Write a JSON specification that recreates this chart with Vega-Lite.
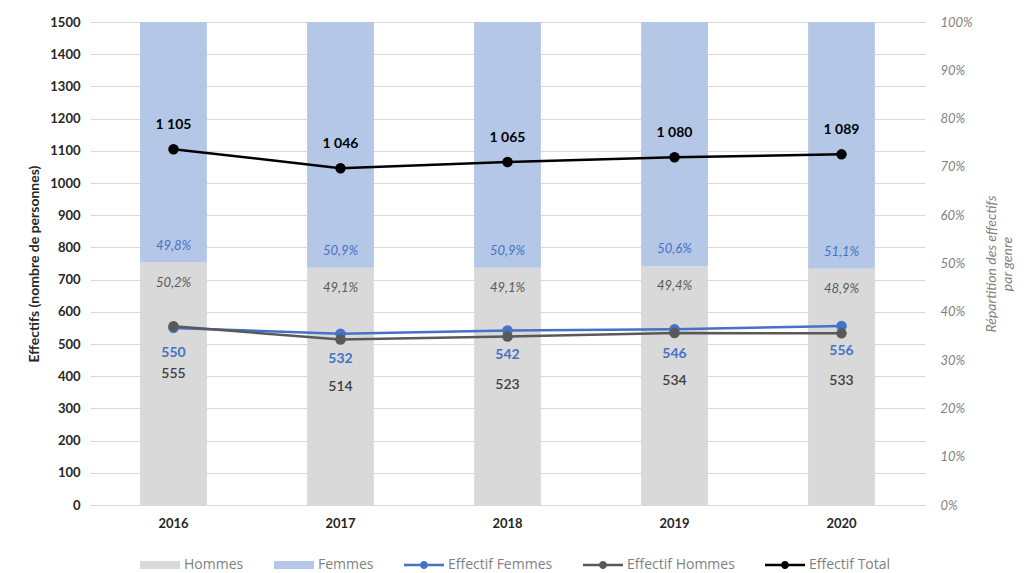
{
  "$schema": "https://vega.github.io/schema/vega-lite/v6.json",
  "autosize": {"type": "none"},
  "padding": {"left": 90, "top": 22, "right": 104, "bottom": 68},
  "width": 835,
  "height": 483,
  "config": {
    "font": "Lato",
    "view": {"stroke": null},
    "locale": {"number": {"decimal": ",", "thousands": " ", "grouping": [3], "currency": ["", " €"]}}
  },
  "datasets": {
    "annees": [
      {"annee": "2016", "Hommes": 0.502, "Femmes": 0.498, "Effectif Femmes": 550, "Effectif Hommes": 555, "Effectif Total": 1105},
      {"annee": "2017", "Hommes": 0.491, "Femmes": 0.509, "Effectif Femmes": 532, "Effectif Hommes": 514, "Effectif Total": 1046},
      {"annee": "2018", "Hommes": 0.491, "Femmes": 0.509, "Effectif Femmes": 542, "Effectif Hommes": 523, "Effectif Total": 1065},
      {"annee": "2019", "Hommes": 0.494, "Femmes": 0.506, "Effectif Femmes": 546, "Effectif Hommes": 534, "Effectif Total": 1080},
      {"annee": "2020", "Hommes": 0.489, "Femmes": 0.511, "Effectif Femmes": 556, "Effectif Hommes": 533, "Effectif Total": 1089}
    ]
  },
  "data": {"name": "annees"},
  "encoding": {
    "x": {
      "field": "annee",
      "type": "nominal",
      "scale": {"type": "band", "paddingInner": 0.6, "paddingOuter": 0.3},
      "axis": {"title": null, "labelAngle": 0, "labelFontWeight": "bold", "labelFontSize": 13, "labelColor": "#262626", "labelPadding": 12, "domain": false, "ticks": false, "grid": false}
    }
  },
  "layer": [
    {
      "layer": [
        {
          "transform": [{"fold": ["Hommes", "Femmes"], "as": ["key", "value"]}],
          "mark": {"type": "bar"},
          "encoding": {
            "y": {
              "field": "value",
              "type": "quantitative",
              "stack": "zero",
              "scale": {"domain": [0, 1], "nice": false},
              "axis": {
                "orient": "right",
                "format": ".0%",
                "values": [0, 0.1, 0.2, 0.3, 0.4, 0.5, 0.6, 0.7, 0.8, 0.9, 1],
                "labelOverlap": false,
                "grid": false,
                "domain": false,
                "ticks": false,
                "labelFontStyle": "italic",
                "labelColor": "#7f7f7f",
                "labelFontSize": 13,
                "labelPadding": 15,
                "title": ["Répartition des effectifs", "par genre"],
                "titleAngle": 270,
                "titleFontStyle": "italic",
                "titleFontWeight": "normal",
                "titleColor": "#7f7f7f",
                "titleFontSize": 14,
                "titlePadding": 10
              }
            },
            "order": {"field": "key", "sort": "descending"},
            "color": {
              "field": "key",
              "type": "nominal",
              "scale": {
                "domain": ["Hommes", "Femmes", "Effectif Femmes", "Effectif Hommes", "Effectif Total"],
                "range": ["#d9d9d9", "#b4c7e7", "#4472c4", "#595959", "#000000"]
              },
              "legend": {
                "orient": "none",
                "legendX": 50,
                "legendY": 533,
                "direction": "horizontal",
                "title": null,
                "labelFont": "Open Sans",
                "labelFontSize": 14,
                "labelColor": "#7f7f7f",
                "symbolSize": 400,
                "labelOffset": 24,
                "columnPadding": 30,
                "encode": {
                  "symbols": {
                    "update": {
                      "shape": {"signal": "indexof(['Hommes','Femmes'], datum.value) >= 0 ? 'M-1,-0.4H3V0.4H-1Z' : 'M-1,-0.13H3V0.13H-1Z M1.4,0A0.4,0.4 0 1,1 0.6,0A0.4,0.4 0 1,1 1.4,0Z'"},
                      "fill": {"signal": "scale('color', datum.value)"},
                      "stroke": {"value": "transparent"},
                      "strokeWidth": {"value": 0},
                      "opacity": {"value": 1}
                    }
                  }
                }
              }
            }
          }
        },
        {
          "mark": {"type": "text", "dy": -17, "fontStyle": "italic", "fontSize": 13, "color": "#4472c4"},
          "encoding": {
            "y": {"field": "Hommes", "type": "quantitative"},
            "text": {"field": "Femmes", "type": "quantitative", "format": ".1%"}
          }
        },
        {
          "mark": {"type": "text", "dy": 20, "fontStyle": "italic", "fontSize": 13, "color": "#595959"},
          "encoding": {
            "y": {"field": "Hommes", "type": "quantitative"},
            "text": {"field": "Hommes", "type": "quantitative", "format": ".1%"}
          }
        }
      ]
    },
    {
      "transform": [{"fold": ["Effectif Femmes", "Effectif Hommes", "Effectif Total"], "as": ["key", "value"]}],
      "encoding": {
        "y": {
          "field": "value",
          "type": "quantitative",
          "scale": {"domain": [0, 1500], "nice": false},
          "axis": {
            "orient": "left",
            "format": "d",
            "values": [0, 100, 200, 300, 400, 500, 600, 700, 800, 900, 1000, 1100, 1200, 1300, 1400, 1500],
            "labelOverlap": false,
            "grid": true,
            "gridColor": "#d9d9d9",
            "gridWidth": 1,
            "domain": false,
            "ticks": false,
            "labelFontWeight": "bold",
            "labelColor": "#262626",
            "labelFontSize": 13,
            "labelPadding": 10,
            "title": "Effectifs (nombre de personnes)",
            "titleFontWeight": "bold",
            "titleColor": "#262626",
            "titleFontSize": 14,
            "titlePadding": 8
          }
        }
      },
      "layer": [
        {
          "mark": {"type": "line", "strokeWidth": 2.5, "point": {"size": 110, "filled": true}},
          "encoding": {
            "color": {"field": "key", "type": "nominal"}
          }
        },
        {
          "transform": [{"filter": "datum.key == 'Effectif Total'"}],
          "mark": {"type": "text", "dy": -24, "fontWeight": "bold", "fontSize": 14, "color": "#000000"},
          "encoding": {
            "text": {"field": "value", "type": "quantitative", "format": ","}
          }
        },
        {
          "transform": [{"filter": "datum.key == 'Effectif Femmes'"}],
          "mark": {"type": "text", "dy": 25, "fontWeight": "bold", "fontSize": 14, "color": "#4472c4"},
          "encoding": {
            "text": {"field": "value", "type": "quantitative", "format": "d"}
          }
        },
        {
          "transform": [{"filter": "datum.key == 'Effectif Hommes'"}],
          "mark": {"type": "text", "dy": 48, "fontWeight": 600, "fontSize": 14, "color": "#404040"},
          "encoding": {
            "text": {"field": "value", "type": "quantitative", "format": "d"}
          }
        }
      ]
    }
  ],
  "resolve": {"scale": {"y": "independent"}}
}
